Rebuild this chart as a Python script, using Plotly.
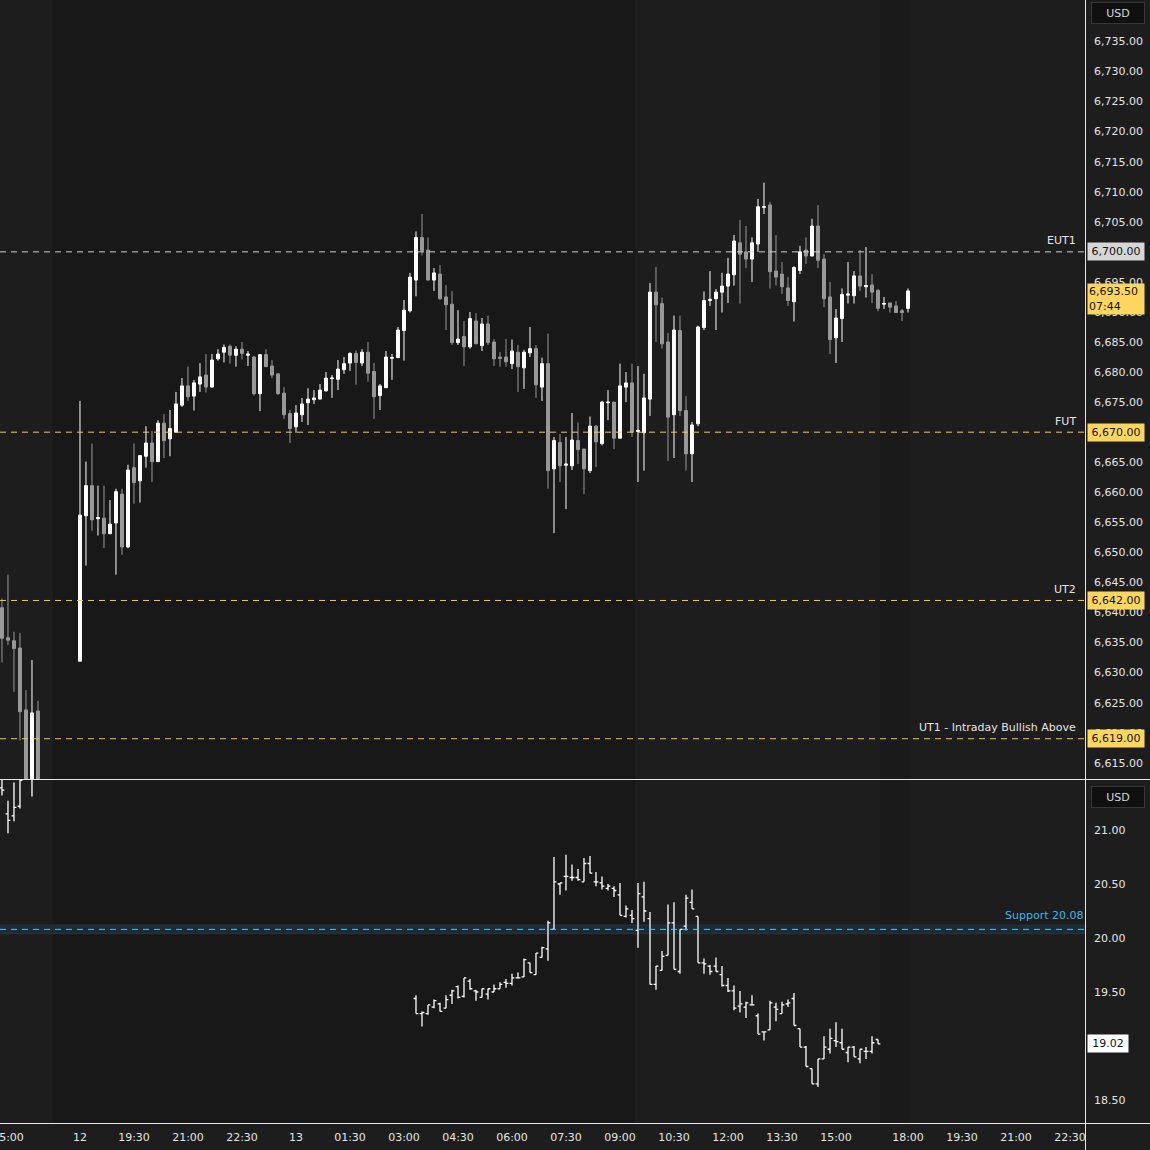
import plotly.graph_objects as go
from plotly.subplots import make_subplots

# ---- data (10-minute bars, x = bar index, 0 = 18:00 session open) ----
es_bar = [-13, -12, -11, -10, -9, -8, -7] + list(range(0, 139))
es_open = [
    6640.8, 6635.8, 6635.3, 6634.1, 6623.8, 6609.0, 6623.6,
    6631.9, 6656.1, 6661.1, 6655.6, 6655.7, 6653.1, 6654.9, 6659.7, 6650.9, 6664.1,
    6661.9, 6666.0, 6668.2, 6665.1, 6671.5, 6668.9, 6670.0, 6674.5, 6677.7, 6676.0,
    6678.0, 6679.5, 6677.5, 6682.2, 6683.3, 6684.3, 6682.8, 6683.8, 6682.8, 6682.5,
    6676.4, 6682.9, 6681.0, 6679.7, 6676.5, 6673.1, 6670.9, 6672.9, 6674.9, 6675.4,
    6675.5, 6676.9, 6678.9, 6678.8, 6680.4, 6681.5, 6683.1, 6681.5, 6683.3, 6680.1,
    6676.1, 6677.4, 6682.3, 6682.4, 6686.9, 6690.2, 6695.3, 6702.4, 6700.3, 6695.3,
    6696.3, 6692.5, 6691.3, 6684.9, 6685.9, 6684.2, 6688.5, 6684.4, 6688.0, 6685.0,
    6682.5, 6682.5, 6681.4, 6683.3, 6680.7, 6683.2, 6683.9, 6677.5, 6681.4, 6663.9,
    6668.3, 6664.5, 6664.4, 6668.6, 6667.2, 6663.6, 6671.0, 6668.1, 6674.9, 6675.0,
    6669.0, 6677.5, 6678.2, 6670.1, 6669.9, 6675.5, 6693.3, 6691.4, 6685.0, 6672.9,
    6686.9, 6673.6, 6666.4, 6671.4, 6687.4, 6691.9, 6692.2, 6693.3, 6694.3, 6696.2,
    6701.5, 6700.0, 6698.8, 6701.3, 6707.4, 6707.8, 6696.8, 6696.3, 6694.0, 6691.7,
    6696.9, 6700.3, 6699.3, 6704.3, 6698.8, 6692.5, 6685.7, 6688.9, 6692.8, 6692.7,
    6696.0, 6694.2, 6694.5, 6693.6, 6691.3, 6691.5, 6691.0, 6690.2, 6690.6,
]
es_high = [
    6642.3, 6646.3, 6636.8, 6636.6, 6627.1, 6632.1, 6625.3,
    6675.2, 6665.1, 6668.1, 6661.1, 6661.1, 6658.7, 6660.6, 6660.6, 6664.6, 6668.1,
    6666.2, 6671.0, 6670.2, 6672.0, 6673.0, 6673.7, 6676.7, 6679.0, 6680.9, 6678.7,
    6681.5, 6683.0, 6683.0, 6683.8, 6684.6, 6684.6, 6684.3, 6685.0, 6683.5, 6682.7,
    6683.0, 6683.8, 6682.0, 6679.7, 6677.5, 6673.7, 6674.5, 6675.7, 6677.3, 6677.0,
    6678.0, 6680.0, 6679.5, 6682.0, 6682.5, 6683.3, 6683.6, 6683.8, 6685.0, 6681.5,
    6678.0, 6683.5, 6683.0, 6687.5, 6692.0, 6696.5, 6703.4, 6706.3, 6702.4, 6697.3,
    6697.8, 6694.5, 6693.5, 6690.3, 6688.5, 6690.0, 6689.8, 6689.0, 6689.4, 6685.5,
    6683.3, 6685.5, 6685.4, 6684.5, 6683.7, 6687.5, 6684.5, 6682.4, 6686.4, 6669.2,
    6669.7, 6669.2, 6673.2, 6671.6, 6667.2, 6672.6, 6671.2, 6675.2, 6677.0, 6675.0,
    6681.4, 6680.0, 6681.4, 6681.0, 6679.7, 6694.8, 6697.5, 6692.4, 6686.5, 6689.4,
    6689.4, 6676.0, 6671.7, 6687.7, 6693.4, 6696.8, 6693.8, 6696.5, 6699.0, 6702.8,
    6705.3, 6704.3, 6702.4, 6708.8, 6711.5, 6708.3, 6702.8, 6698.3, 6695.8, 6697.6,
    6701.0, 6702.4, 6705.5, 6707.8, 6699.6, 6695.0, 6690.5, 6693.9, 6698.3, 6696.8,
    6700.3, 6700.8, 6696.3, 6693.8, 6692.5, 6691.5, 6691.8, 6690.5, 6693.9,
]
es_low = [
    6631.7, 6634.6, 6626.8, 6618.7, 6605.0, 6606.0, 6605.0,
    6631.9, 6647.8, 6653.6, 6652.8, 6650.7, 6653.1, 6646.3, 6649.6, 6650.7, 6658.1,
    6658.3, 6664.1, 6661.7, 6665.1, 6665.7, 6666.0, 6670.0, 6674.2, 6675.2, 6673.6,
    6676.7, 6676.6, 6677.5, 6681.9, 6681.6, 6681.4, 6680.9, 6682.1, 6681.0, 6676.1,
    6673.5, 6680.9, 6679.0, 6676.2, 6672.2, 6668.2, 6669.9, 6671.7, 6671.2, 6674.7,
    6675.5, 6676.7, 6675.7, 6677.0, 6679.7, 6680.2, 6677.9, 6681.0, 6678.4, 6672.2,
    6673.7, 6677.4, 6678.7, 6682.4, 6681.9, 6689.9, 6692.6, 6699.4, 6695.3, 6693.5,
    6692.0, 6687.0, 6684.5, 6684.5, 6681.0, 6683.9, 6684.7, 6683.5, 6684.5, 6681.0,
    6680.9, 6680.9, 6680.5, 6676.7, 6677.2, 6682.5, 6675.7, 6675.2, 6660.6, 6653.2,
    6661.7, 6657.2, 6663.7, 6664.7, 6659.7, 6663.2, 6664.2, 6667.8, 6672.0, 6667.2,
    6669.0, 6675.0, 6669.2, 6661.7, 6663.6, 6672.7, 6685.0, 6683.9, 6665.2, 6665.7,
    6672.7, 6663.6, 6661.7, 6671.0, 6687.0, 6691.0, 6687.0, 6689.9, 6691.5, 6694.4,
    6691.4, 6697.3, 6695.0, 6700.0, 6706.3, 6693.9, 6694.4, 6693.0, 6691.0, 6688.4,
    6696.3, 6698.0, 6699.3, 6697.3, 6690.8, 6683.0, 6681.5, 6685.0, 6691.4, 6691.4,
    6693.5, 6692.4, 6691.5, 6690.1, 6690.5, 6689.9, 6689.9, 6688.5, 6689.9,
]
es_close = [
    6635.7, 6635.4, 6634.0, 6623.5, 6608.0, 6623.3, 6607.0,
    6656.2, 6661.1, 6655.4, 6655.8, 6653.1, 6654.7, 6660.1, 6650.9, 6663.7, 6661.6,
    6666.1, 6668.2, 6665.1, 6671.5, 6668.6, 6670.6, 6674.7, 6677.7, 6675.9, 6678.2,
    6679.2, 6677.5, 6682.0, 6683.0, 6684.1, 6682.8, 6683.8, 6683.1, 6683.0, 6676.4,
    6682.9, 6680.9, 6679.5, 6676.4, 6672.9, 6670.6, 6673.2, 6674.7, 6675.5, 6675.7,
    6677.0, 6679.0, 6679.0, 6680.5, 6681.4, 6683.1, 6681.6, 6683.3, 6679.8, 6675.9,
    6677.7, 6682.5, 6682.4, 6687.0, 6690.3, 6695.8, 6702.4, 6700.2, 6695.3, 6696.5,
    6692.2, 6691.2, 6684.9, 6685.5, 6684.2, 6688.9, 6684.7, 6688.0, 6684.9, 6682.2,
    6682.3, 6681.7, 6683.5, 6680.9, 6683.3, 6683.9, 6677.9, 6681.4, 6663.6, 6668.6,
    6664.4, 6664.7, 6668.7, 6667.1, 6663.9, 6671.0, 6668.4, 6675.0, 6675.0, 6669.0,
    6677.7, 6678.2, 6670.0, 6670.3, 6675.7, 6693.3, 6691.2, 6684.7, 6672.5, 6687.0,
    6673.6, 6666.4, 6671.2, 6687.5, 6691.9, 6692.1, 6693.3, 6694.3, 6696.3, 6701.8,
    6699.6, 6698.8, 6701.5, 6707.5, 6707.5, 6696.7, 6695.8, 6694.2, 6691.9, 6697.4,
    6700.0, 6699.3, 6704.3, 6698.6, 6692.2, 6685.4, 6689.0, 6692.9, 6693.0, 6696.0,
    6694.3, 6694.4, 6693.3, 6690.6, 6691.4, 6690.8, 6689.9, 6689.9, 6693.5,
]

vix_bar = [-13, -12, -11, -10, -9, -8] + list(range(56, 134))
vix_open = [
    21.39, 21.15, 21.13, 21.22, 21.50, 21.52,
    19.44, 19.30, 19.30, 19.36, 19.39, 19.35, 19.47, 19.55, 19.46, 19.60, 19.51, 19.45,
    19.48, 19.50, 19.53, 19.59, 19.58, 19.63, 19.64, 19.77, 19.66, 19.82, 19.90, 20.08,
    20.50, 20.57, 20.56, 20.56, 20.52, 20.69, 20.52, 20.51, 20.46, 20.46, 20.40, 20.20,
    20.21, 20.07, 20.38, 20.18, 19.57, 19.70, 19.84, 20.14, 19.69, 20.11, 20.33, 20.20,
    19.77, 19.74, 19.74, 19.66, 19.56, 19.51, 19.37, 19.36, 19.38, 19.28, 19.13, 19.15,
    19.36, 19.30, 19.39, 19.44, 19.16, 18.99, 18.79, 18.65, 18.88, 18.97, 19.05, 19.03,
    18.94, 18.99, 18.88, 18.95, 18.95, 19.06,
]
vix_high = [
    21.55, 21.27, 21.44, 21.50, 21.62, 21.58,
    19.47, 19.32, 19.38, 19.43, 19.40, 19.47, 19.52, 19.56, 19.63, 19.62, 19.52, 19.53,
    19.53, 19.57, 19.59, 19.62, 19.67, 19.68, 19.81, 19.77, 19.86, 19.92, 20.16, 20.75,
    20.51, 20.77, 20.68, 20.64, 20.74, 20.76, 20.61, 20.57, 20.50, 20.48, 20.51, 20.30,
    20.26, 20.51, 20.52, 20.24, 19.74, 19.88, 20.31, 20.33, 20.08, 20.40, 20.45, 20.20,
    19.81, 19.75, 19.82, 19.74, 19.63, 19.56, 19.51, 19.41, 19.47, 19.30, 19.13, 19.42,
    19.40, 19.41, 19.43, 19.49, 19.16, 19.00, 18.79, 18.88, 19.09, 19.16, 19.22, 19.16,
    18.99, 19.00, 18.97, 18.99, 19.09, 19.06,
]
vix_low = [
    21.32, 20.97, 21.08, 21.20, 21.48, 21.31,
    19.30, 19.18, 19.29, 19.35, 19.32, 19.35, 19.39, 19.44, 19.45, 19.52, 19.42, 19.45,
    19.43, 19.50, 19.53, 19.54, 19.56, 19.63, 19.64, 19.68, 19.66, 19.82, 19.79, 20.08,
    20.40, 20.44, 20.53, 20.53, 20.52, 20.60, 20.48, 20.45, 20.44, 20.38, 20.21, 20.19,
    20.14, 19.91, 20.15, 19.57, 19.52, 19.70, 19.84, 19.71, 19.67, 20.07, 20.27, 19.77,
    19.67, 19.66, 19.69, 19.55, 19.50, 19.33, 19.31, 19.26, 19.38, 19.11, 19.05, 19.15,
    19.23, 19.30, 19.36, 19.19, 18.99, 18.81, 18.65, 18.62, 18.88, 18.93, 18.99, 18.97,
    18.85, 18.90, 18.84, 18.88, 18.93, 19.02,
]
vix_close = [
    21.37, 21.09, 21.21, 21.46, 21.55, 21.50,
    19.30, 19.31, 19.38, 19.42, 19.32, 19.43, 19.51, 19.45, 19.63, 19.53, 19.50, 19.53,
    19.53, 19.53, 19.57, 19.58, 19.63, 19.63, 19.80, 19.68, 19.86, 19.91, 20.14, 20.52,
    20.51, 20.57, 20.56, 20.54, 20.69, 20.60, 20.52, 20.48, 20.48, 20.44, 20.21, 20.27,
    20.18, 20.41, 20.25, 19.57, 19.74, 19.83, 20.14, 19.71, 20.08, 20.37, 20.27, 19.77,
    19.76, 19.69, 19.69, 19.56, 19.51, 19.35, 19.39, 19.40, 19.38, 19.11, 19.13, 19.40,
    19.34, 19.38, 19.40, 19.19, 18.99, 18.81, 18.65, 18.88, 18.99, 19.07, 19.04, 18.97,
    18.99, 18.90, 18.97, 18.95, 19.03, 19.02,
]

# time axis labels (bar index -> label)
time_tick_bars = [-12, 0, 9, 18, 27, 36, 45, 54, 63, 72, 81, 90, 99, 108, 117, 126,
                  138, 147, 156, 165]
time_tick_text = ["15:00", "12", "19:30", "21:00", "22:30", "13", "01:30", "03:00",
                  "04:30", "06:00", "07:30", "09:00", "10:30", "12:00", "13:30",
                  "15:00", "18:00", "19:30", "21:00", "22:30"]

# key levels on the ES panel
level_prices = [6700, 6670, 6642, 6619]
level_names = ["EUT1", "FUT", "UT2", "UT1 - Intraday Bullish Above"]
level_colors = ["#cfcfcf", "#f2c94c", "#f2c94c", "#f2c94c"]
level_label_bg = ["#d6d6d6", "#ffd75e", "#ffd75e", "#ffd75e"]

support_level = 20.08
last_price = 6693.50
last_vix = 19.02

# session shading (bar index bounds)
eth_bounds = [(-4.5, 92.5)]
post_bounds = [(133.3, 138.3)]

W, H = 1150, 1150
x_right = 1085 / W          # right edge of plot area
top_bottom = 1 - 779 / H    # bottom of price pane
low_top = 1 - 780 / H
low_bottom = 1 - 1123 / H

BG = "#1d1d1d"
FONT = "DejaVu Sans"
TXT = "#e4e4e4"

fig = make_subplots(rows=2, cols=1, shared_xaxes=True, vertical_spacing=0)

fig.add_trace(
    go.Candlestick(
        x=es_bar, open=es_open, high=es_high, low=es_low, close=es_close,
        increasing=dict(line=dict(color="#ffffff", width=1), fillcolor="#ffffff"),
        decreasing=dict(line=dict(color="#999999", width=1), fillcolor="#999999"),
        showlegend=False, hoverinfo="skip",
    ),
    row=1, col=1,
)

fig.add_trace(
    go.Ohlc(
        x=vix_bar, open=vix_open, high=vix_high, low=vix_low, close=vix_close,
        increasing=dict(line=dict(color="#ffffff", width=1.3)),
        decreasing=dict(line=dict(color="#ffffff", width=1.3)),
        tickwidth=0.4, showlegend=False, hoverinfo="skip",
    ),
    row=2, col=1,
)

shapes = []
for x0, x1 in eth_bounds:
    shapes.append(dict(type="rect", xref="x", yref="paper", x0=x0, x1=x1,
                       y0=low_bottom, y1=1, fillcolor="#181818", line_width=0,
                       layer="below"))
for x0, x1 in post_bounds:
    shapes.append(dict(type="rect", xref="x", yref="paper", x0=x0, x1=x1,
                       y0=low_bottom, y1=1, fillcolor="#1a1a1a", line_width=0,
                       layer="below"))

# support band + line on the lower pane
shapes.append(dict(type="rect", xref="paper", yref="y2", x0=0, x1=x_right,
                   y0=support_level - 0.04, y1=support_level + 0.04,
                   fillcolor="#1f2b33", line=dict(color="#26343e", width=1),
                   layer="below"))
shapes.append(dict(type="line", xref="paper", yref="y2", x0=0, x1=x_right,
                   y0=support_level, y1=support_level,
                   line=dict(color="#4fc3f7", width=1, dash="6px,5px")))

for p, c in zip(level_prices, level_colors):
    shapes.append(dict(type="line", xref="paper", yref="y", x0=0, x1=x_right,
                       y0=p, y1=p, line=dict(color=c, width=1, dash="6px,5px")))

# pane borders
border = "#e6e6e6"
shapes += [
    dict(type="line", xref="paper", yref="paper", x0=0, x1=1,
         y0=1 - 779.5 / H, y1=1 - 779.5 / H, line=dict(color=border, width=1)),
    dict(type="line", xref="paper", yref="paper", x0=0, x1=1,
         y0=1 - 1123.5 / H, y1=1 - 1123.5 / H, line=dict(color=border, width=1)),
    dict(type="line", xref="paper", yref="paper", x0=1085.5 / W, x1=1085.5 / W,
         y0=0, y1=1, line=dict(color=border, width=1)),
]

annotations = []
for p, name, bg in zip(level_prices, level_names, level_label_bg):
    annotations.append(dict(xref="paper", yref="y", x=1078 / W, y=p, yshift=11,
                            text=name, showarrow=False, xanchor="right",
                            font=dict(family=FONT, size=11, color=TXT)))
    annotations.append(dict(xref="paper", yref="y", x=1087 / W, y=p,
                            text=f"{p:,.2f}", showarrow=False, xanchor="left",
                            bgcolor=bg, width=54, height=15, borderpad=1,
                            font=dict(family=FONT, size=11, color="#131313")))

annotations.append(dict(xref="paper", yref="y", x=1087 / W, y=last_price, yshift=8,
                        yanchor="top", text=f"{last_price:,.2f}<br>07:44",
                        showarrow=False, xanchor="left", align="left",
                        bgcolor="#ffd75e", width=54, height=28, borderpad=1,
                        font=dict(family=FONT, size=11, color="#131313")))
annotations.append(dict(xref="paper", yref="y2", x=1087 / W, y=last_vix,
                        text=f"{last_vix:.2f}", showarrow=False, xanchor="left",
                        bgcolor="#ffffff", width=38, height=15, borderpad=1,
                        font=dict(family=FONT, size=11, color="#131313")))
annotations.append(dict(xref="paper", yref="y2", x=1085 / W, y=support_level,
                        yshift=14, text=f"Support {support_level:.2f}",
                        showarrow=False, xanchor="right",
                        font=dict(family=FONT, size=11, color="#3fb4ec")))
for ymid in (1 - 12.5 / H, 1 - 797 / H):
    annotations.append(dict(xref="paper", yref="paper", x=1117.5 / W, y=ymid,
                            xanchor="center", yanchor="middle",
                            text="USD", showarrow=False, bgcolor="#101010",
                            bordercolor="#383838", borderwidth=1, width=50, height=18,
                            font=dict(family=FONT, size=11, color="#d6d6d6")))

axis_font = dict(family=FONT, size=11, color=TXT)

fig.update_layout(
    width=W, height=H,
    margin=dict(l=0, r=0, t=0, b=0, pad=0, autoexpand=False),
    paper_bgcolor=BG, plot_bgcolor=BG,
    shapes=shapes, annotations=annotations,
    showlegend=False,
    xaxis=dict(domain=[0, x_right], range=[-13.33, 167.5], rangeslider=dict(visible=False),
               showgrid=False, zeroline=False, showticklabels=False, automargin=False),
    xaxis2=dict(domain=[0, x_right], range=[-13.33, 167.5], rangeslider=dict(visible=False),
                showgrid=False, zeroline=False, tickmode="array",
                tickvals=time_tick_bars, ticktext=time_tick_text, ticks="",
                tickfont=axis_font, ticklabelstandoff=6, ticklabeloverflow="allow",
                automargin=False),
    yaxis=dict(domain=[top_bottom, 1], range=[6612.3, 6741.9], side="right",
               showgrid=False, zeroline=False, tickmode="array",
               tickvals=list(range(6615, 6740, 5)), tickformat=",.2f",
               ticks="", tickfont=axis_font, ticklabelstandoff=8, automargin=False),
    yaxis2=dict(domain=[low_bottom, low_top], range=[18.287, 21.463], side="right",
                showgrid=False, zeroline=False, tickmode="array",
                tickvals=[18.5, 19.0, 19.5, 20.0, 20.5, 21.0], tickformat=".2f",
                ticks="", tickfont=axis_font, ticklabelstandoff=8, automargin=False),
)

fig.write_html(
    "out.html",
    config={"displayModeBar": False},
    post_script="document.body.style.margin='0';document.body.style.overflow='hidden';",
)
